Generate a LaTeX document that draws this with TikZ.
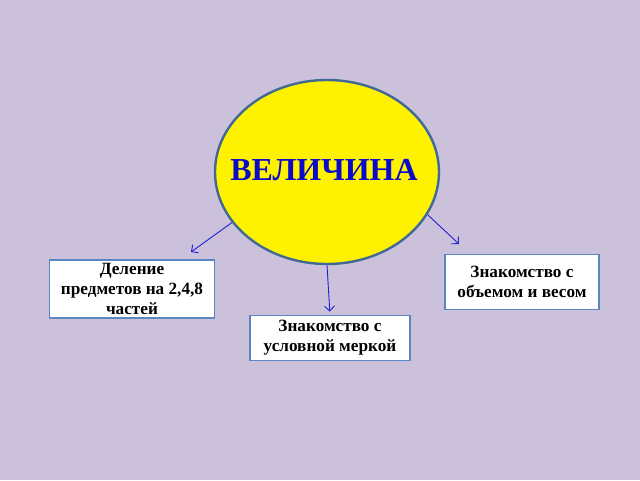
\documentclass[tikz,border=0pt]{standalone}
\usepackage{fontspec}
\setmainfont{Liberation Serif}
\usetikzlibrary{shapes.geometric,arrows.meta}
\definecolor{bglilac}{RGB}{204,193,218}
\definecolor{rimblue}{RGB}{65,105,150}
\definecolor{boxblue}{RGB}{90,135,195}
\definecolor{textblue}{RGB}{10,10,200}
\definecolor{arrowblue}{RGB}{30,30,220}
\begin{document}
\begin{tikzpicture}[x=1pt,y=-1pt,
    topic/.style={ellipse, draw=rimblue, line width=2.4pt, fill=yellow,
      minimum width=224pt, minimum height=184pt, inner sep=0pt},
    title/.style={text=textblue, font=\bfseries\fontsize{32}{36}\selectfont},
    leaf/.style={rectangle, draw=boxblue, line width=1.7pt, fill=white,
      align=center, inner sep=2pt,
      font=\bfseries\fontsize{17.2}{20}\selectfont},
    link/.style={draw=arrowblue, line width=0.9pt,
      -{Straight Barb[length=5pt,width=10pt]}}]

    % --- Background ---
    \fill[bglilac] (0,0) rectangle (640,480);

    % --- Central ellipse ---
    \node[topic] (vel) at (327,172) {};
    \node[title] (velt) at (324,170) {ВЕЛИЧИНА};

    % --- Boxes ---
    \node[leaf, minimum width=165pt, minimum height=58pt] (del) at (132,289)
      {Деление\\предметов на 2,4,8\\частей};
    \node[leaf, minimum width=154pt, minimum height=55pt] (obj) at (522,282)
      {Знакомство с\\объемом и весом};
    \node[leaf, minimum width=160pt, minimum height=45pt] (mer) at (330,338)
      {Знакомство с\\условной меркой};

    % --- Arrow tips (free ends) ---
    \coordinate (tipL) at (191,252);
    \coordinate (tipR) at (459,244);

    % --- Arrows ---
    \draw[link] (vel.208) -- (tipL);
    \draw[link] (vel.-23) -- (tipR);
    \draw[link, shorten >=3pt] (vel.south) -- (mer.north);

\end{tikzpicture}
\end{document}
